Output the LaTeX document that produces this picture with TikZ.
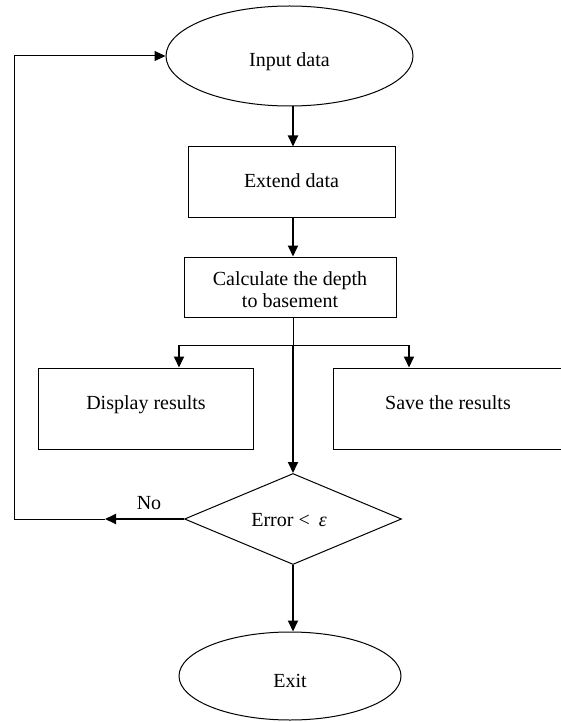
\documentclass[tikz,border=0pt]{standalone}
\usepackage{fontspec}
\setmainfont{Liberation Serif}
\usetikzlibrary{shapes.geometric,arrows.meta}
\begin{document}
\begin{tikzpicture}[x=1pt,y=-1pt,
  font=\fontsize{20}{23}\selectfont,
  outline/.style={draw,line width=1pt,inner sep=0pt},
  boxnode/.style={outline,rectangle},
  ovalnode/.style={outline,ellipse},
  decnode/.style={outline,diamond},
  txt/.style={anchor=base,inner sep=0pt},
  conn/.style={line width=1.8pt,-{Triangle[length=11pt,width=10pt]}},
  thinline/.style={line width=1pt},
  thinconn/.style={line width=1pt,-{Triangle[length=11pt,width=10pt]}},
]
\useasboundingbox (0,0) rectangle (561,722);
\clip (0,0) rectangle (561,722);

% shapes
\node[ovalnode,minimum width=247pt,minimum height=100pt] (inp) at (289.5,56) {};
\node[boxnode,minimum width=207pt,minimum height=70pt] (ext) at (291.5,182) {};
\node[boxnode,minimum width=212pt,minimum height=60pt] (calc) at (290,287) {};
\node[boxnode,minimum width=215pt,minimum height=81pt] (disp) at (145.5,408.5) {};
\node[boxnode,minimum width=230pt,minimum height=81pt] (save) at (448,408.5) {};
\node[decnode,minimum width=217pt,minimum height=91pt] (dec) at (293,519) {};
\node[ovalnode,minimum width=222pt,minimum height=88pt] (ex) at (290,676) {};

% labels
\node[txt] (inp-t) at (289.5,67) {Input data};
\node[txt] (ext-t) at (291.5,187) {Extend data};
\node[txt] (calc-a) at (290,285) {Calculate the depth};
\node[txt] (calc-b) at (290,307) {to basement};
\node[txt] (disp-t) at (146,409) {Display results};
\node[txt] (save-t) at (448,409) {Save the results};
\node[txt] (dec-t) at (289,526) {Error <\hspace{9pt}\textit{ε}};
\node[txt] (ex-t) at (290,687) {Exit};
\node[txt] (no-t) at (149,509) {No};

% connector helpers
\coordinate (axis) at (293,0);
\coordinate (fork) at (293,345);
\coordinate (forkl) at (179,345);
\coordinate (forkr) at (409,345);
\coordinate (noarr) at (105,519);
\coordinate (loopc) at (14,519);

% connectors
\draw[conn] (inp.south -| axis) -- (ext.north -| axis);
\draw[conn] (ext.south -| axis) -- (calc.north -| axis);
\draw[thinline] (calc.south -| axis) -- (fork);
\draw[thinline] (forkl) -- (forkr);
\draw[conn] (forkl) -- (forkl |- disp.north);
\draw[conn] (forkr) -- (forkr |- save.north);
\draw[conn] (fork) -- (fork |- dec.north);
\draw[conn] (dec.south) -- (dec.south |- ex.north);
\draw[conn] (dec.west) -- (noarr);
\draw[thinconn] (noarr) -- (loopc) |- (inp.west);
\end{tikzpicture}
\end{document}
